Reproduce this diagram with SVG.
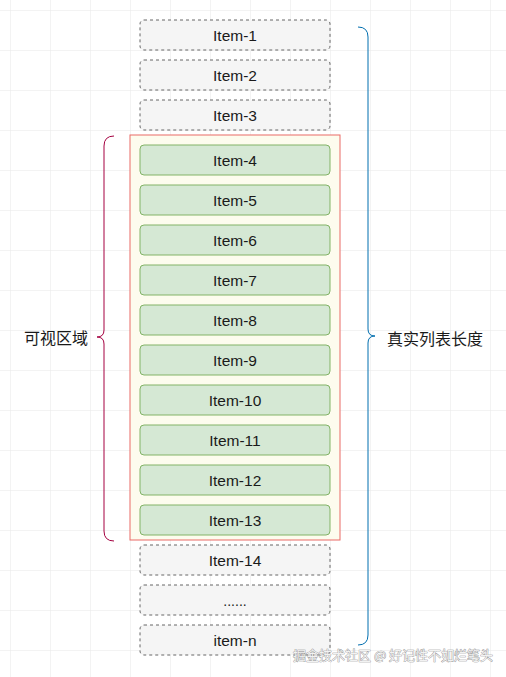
<svg xmlns="http://www.w3.org/2000/svg" width="506" height="677" viewBox="0 0 506 677">
<defs>
<pattern id="grid" x="10" y="10" width="40" height="40" patternUnits="userSpaceOnUse">
<path d="M0,0 H40 M0,0 V40" fill="none" stroke="#e8e8e8" stroke-width="1"/>
</pattern>
<style>
.gray rect{fill:#f5f5f5;stroke:#666666;stroke-width:1;stroke-dasharray:3 3}
.green rect{fill:#d5e8d4;stroke:#82b366;stroke-width:1}
text{font-family:"Liberation Sans",Arial,sans-serif;font-size:15.5px;fill:#1a1a1a;text-anchor:middle;dominant-baseline:central}
.cjk{font-family:"Noto Sans CJK SC","Liberation Sans",sans-serif;font-size:16px}
.wm{font-family:"Noto Sans CJK SC","Liberation Sans",sans-serif;font-size:13px;fill:#f2f2f2;stroke:#8a8a8a;stroke-width:0.7px;paint-order:stroke;text-anchor:start}
</style>
</defs>
<rect x="0" y="0" width="506" height="677" fill="#ffffff"/>
<rect x="0" y="0" width="506" height="677" fill="url(#grid)"/>
<g id="viewport"><rect x="130" y="135" width="210" height="405" fill="#fdfcee" stroke="#ea6b66" stroke-width="1"/></g>
<g id="item-1" class="gray"><rect x="140" y="20" width="190" height="30" rx="4"/><text x="235" y="35">Item-1</text></g>
<g id="item-2" class="gray"><rect x="140" y="60" width="190" height="30" rx="4"/><text x="235" y="75">Item-2</text></g>
<g id="item-3" class="gray"><rect x="140" y="100" width="190" height="30" rx="4"/><text x="235" y="115">Item-3</text></g>
<g id="item-4" class="green"><rect x="140" y="145" width="190" height="30" rx="4"/><text x="235" y="160">Item-4</text></g>
<g id="item-5" class="green"><rect x="140" y="185" width="190" height="30" rx="4"/><text x="235" y="200">Item-5</text></g>
<g id="item-6" class="green"><rect x="140" y="225" width="190" height="30" rx="4"/><text x="235" y="240">Item-6</text></g>
<g id="item-7" class="green"><rect x="140" y="265" width="190" height="30" rx="4"/><text x="235" y="280">Item-7</text></g>
<g id="item-8" class="green"><rect x="140" y="305" width="190" height="30" rx="4"/><text x="235" y="320">Item-8</text></g>
<g id="item-9" class="green"><rect x="140" y="345" width="190" height="30" rx="4"/><text x="235" y="360">Item-9</text></g>
<g id="item-10" class="green"><rect x="140" y="385" width="190" height="30" rx="4"/><text x="235" y="400">Item-10</text></g>
<g id="item-11" class="green"><rect x="140" y="425" width="190" height="30" rx="4"/><text x="235" y="440">Item-11</text></g>
<g id="item-12" class="green"><rect x="140" y="465" width="190" height="30" rx="4"/><text x="235" y="480">Item-12</text></g>
<g id="item-13" class="green"><rect x="140" y="505" width="190" height="30" rx="4"/><text x="235" y="520">Item-13</text></g>
<g id="item-14" class="gray"><rect x="140" y="545" width="190" height="30" rx="4"/><text x="235" y="560">Item-14</text></g>
<g id="item-dots" class="gray"><rect x="140" y="585" width="190" height="30" rx="4"/><text x="235" y="601" style="font-size:14px">......</text></g>
<g id="item-n" class="gray"><rect x="140" y="625" width="190" height="30" rx="4"/><text x="235" y="640">item-n</text></g>
<g id="connectors" fill="none" stroke-width="1">
<path id="bracket-visible" d="M114,136 Q104,136 104,146 L104,330 Q104,337 97,337 Q104,337 104,344 L104,531 Q104,541 114,541" stroke="#a50040"/>
<path id="bracket-total" d="M358,27 Q368,27 368,37 L368,329 Q368,336 375,336 Q368,336 368,343 L368,635 Q368,645 358,645" stroke="#006eaf"/>
</g>
<g id="label-visible"><text class="cjk" x="56" y="337">可视区域</text></g>
<g id="label-total"><text class="cjk" x="435" y="338">真实列表长度</text></g>
<text class="wm" x="293" y="654">掘金技术社区 @ 好记性不如烂笔头</text>
</svg>
